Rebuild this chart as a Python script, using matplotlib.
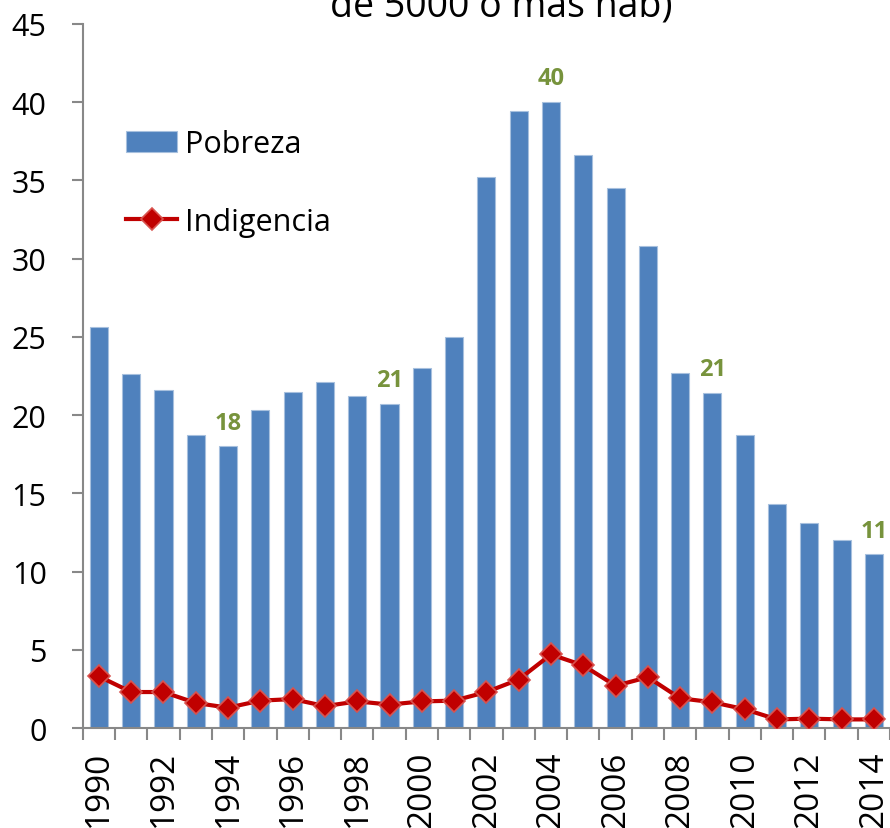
import matplotlib
matplotlib.use("Agg")
import matplotlib.pyplot as plt
import numpy as np

plt.rcParams['font.family'] = ['Open Sans', 'DejaVu Sans']

# data
years = list(range(1990, 2015))
pobreza = [25.6, 22.6, 21.6, 18.7, 18.0, 20.3, 21.5, 22.1, 21.2, 20.7,
           23.0, 25.0, 35.2, 39.4, 40.0, 36.6, 34.5, 30.8, 22.7, 21.4,
           18.7, 14.3, 13.1, 12.0, 11.1]
indigencia = [3.3, 2.3, 2.3, 1.6, 1.3, 1.75, 1.85, 1.4, 1.7, 1.5,
              1.7, 1.75, 2.3, 3.1, 4.7, 4.0, 2.7, 3.25, 1.9, 1.65,
              1.2, 0.55, 0.6, 0.55, 0.55]
labeled_years = [1994, 1999, 2004, 2009, 2014]
labeled_values = ['18', '21', '40', '21', '11']

fig = plt.figure(figsize=(8.9, 8.29), dpi=100)
ax = fig.add_axes([0.093, 0.1206, 0.907, 0.8494])

x = np.arange(len(years))
bars = ax.bar(x, pobreza, width=0.56, color='#4F81BD', edgecolor='#A7C0DE',
              linewidth=0.8, label='Pobreza', zorder=2)
line, = ax.plot(x, indigencia, color='#C00000', linewidth=3, marker='D',
                markersize=11, markerfacecolor='#C00000',
                markeredgecolor='#D9534F', markeredgewidth=1.2,
                label='Indigencia', zorder=3)

# value labels above selected bars
for yr, lab in zip(labeled_years, labeled_values):
    i = years.index(yr)
    ax.text(x[i], pobreza[i] + 0.75, lab, ha='center', va='bottom',
            color='#77933C', fontsize=17, fontweight='bold')

ax.set_xlim(-0.5, len(years) - 0.5)
ax.set_ylim(0, 45)
ax.set_yticks(range(0, 46, 5))
ax.tick_params(axis='y', labelsize=22, length=8, color='#888888', width=1.5,
               pad=18)

ax.set_xticks(x[::2])
ax.set_xticklabels([str(y) for y in years[::2]], rotation=90, fontsize=24)
ax.set_xticks(np.arange(-0.5, len(years), 1), minor=True)
ax.tick_params(axis='x', which='major', length=0, pad=16)
ax.tick_params(axis='x', which='minor', length=8.5, color='#888888', width=1.5)

for s in ['top', 'right']:
    ax.spines[s].set_visible(False)
for s in ['left', 'bottom']:
    ax.spines[s].set_color('#888888')
    ax.spines[s].set_linewidth(1.5)

ax.legend(handles=[bars, line], loc='upper left',
          bbox_to_anchor=(0.053, 0.85), frameon=False, borderpad=0,
          borderaxespad=0, fontsize=22, handlelength=1.7, handleheight=0.7,
          handletextpad=0.25, labelspacing=1.55)

fig.text(0.563, 1 - 17 / 829, 'de 5000 o más hab)', ha='center',
         va='baseline', fontsize=27)

fig.savefig('out.png', dpi=100)
